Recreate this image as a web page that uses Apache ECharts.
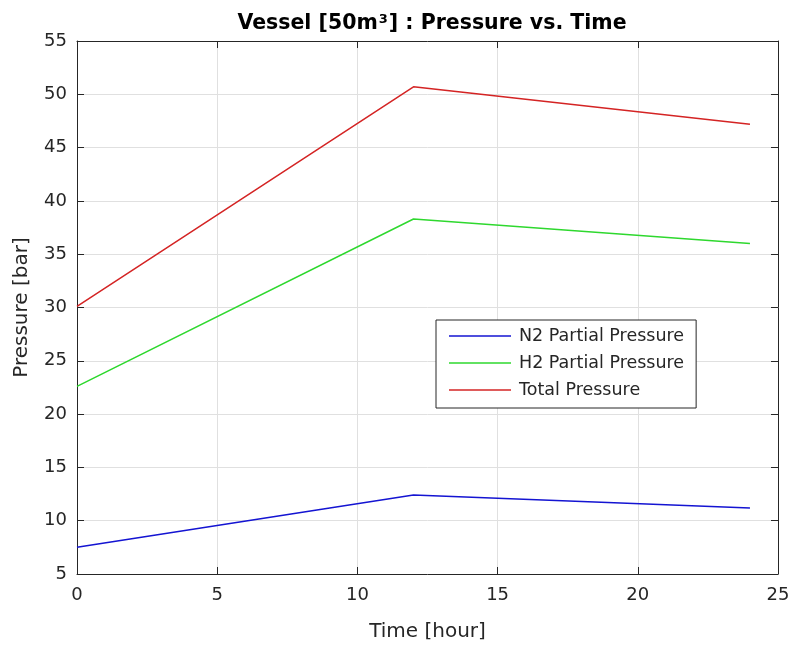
<!DOCTYPE html>
<html>
<head>
<meta charset="utf-8">
<script src="https://cdn.jsdelivr.net/npm/echarts@6/dist/echarts.min.js"></script>
<style>
  html, body { margin: 0; padding: 0; background: #fff; }
  #chart { width: 795px; height: 650px; }
</style>
</head>
<body>
<div id="chart"></div>
<script>
// Sample times in hours
const timeHours = [0, 12, 24];
// Partial and total pressures in bar
const n2Pressure = [7.5, 12.4, 11.2];
const h2Pressure = [22.6, 38.3, 36.0];
const totalPressure = [30.1, 50.7, 47.2];

const seriesNames = ['N2 Partial Pressure', 'H2 Partial Pressure', 'Total Pressure'];
const seriesColors = ['#1414d2', '#2ed82e', '#d42424'];

const textColor = '#262626';
const fontFamily = 'DejaVu Sans, sans-serif';

function pairs(xs, ys) {
  return xs.map((x, i) => [x, ys[i]]);
}

const chart = echarts.init(document.getElementById('chart'), null, { renderer: 'canvas' });

const axisLineStyle = { color: '#262626', width: 1 };
const gridLineStyle = { color: '#e0e0e0', width: 1 };

chart.setOption({
  animation: false,
  backgroundColor: '#ffffff',
  title: {
    text: 'Vessel [50m{sup|3}] : Pressure vs. Time',
    left: 427,
    textAlign: 'center',
    top: 8,
    textStyle: {
      fontFamily: fontFamily,
      fontWeight: 'bold',
      fontSize: 20.5,
      color: '#000',
      rich: {
        sup: {
          fontFamily: fontFamily,
          fontWeight: 'bold',
          fontSize: 13,
          color: '#000',
          verticalAlign: 'top',
          padding: [0, 1, 9, 1]
        }
      }
    }
  },
  grid: { left: 77, right: 17, top: 41, bottom: 76, containLabel: false },
  legend: {
    orient: 'vertical',
    left: 436,
    top: 320,
    icon: 'rect',
    itemWidth: 62,
    itemHeight: 1.4,
    itemGap: 9,
    padding: [7, 12, 9, 13],
    borderColor: '#262626',
    borderWidth: 1,
    backgroundColor: '#fff',
    textStyle: { fontFamily: fontFamily, fontSize: 17.5, color: textColor, padding: [0, 0, 0, 3] },
    data: seriesNames
  },
  xAxis: [
    {
      type: 'value', min: 0, max: 25, interval: 5,
      name: 'Time [hour]', nameLocation: 'middle', nameGap: 48,
      nameTextStyle: { fontFamily: fontFamily, fontSize: 20, color: textColor },
      axisLine: { show: true, lineStyle: axisLineStyle },
      axisTick: { show: true, inside: true, length: 7, lineStyle: axisLineStyle },
      axisLabel: { fontFamily: fontFamily, fontSize: 18, color: textColor, margin: 12 },
      splitLine: { show: true, lineStyle: gridLineStyle }
    },
    {
      type: 'value', min: 0, max: 25, interval: 5, position: 'top',
      axisLine: { show: true, onZero: false, lineStyle: axisLineStyle },
      axisTick: { show: true, inside: true, length: 7, lineStyle: axisLineStyle },
      axisLabel: { show: false },
      splitLine: { show: false }
    }
  ],
  yAxis: [
    {
      type: 'value', min: 5, max: 55, interval: 5,
      name: 'Pressure [bar]', nameLocation: 'middle', nameGap: 45, nameRotate: 90,
      nameTextStyle: { fontFamily: fontFamily, fontSize: 20, color: textColor },
      axisLine: { show: true, lineStyle: axisLineStyle },
      axisTick: { show: true, inside: true, length: 7, lineStyle: axisLineStyle },
      axisLabel: { fontFamily: fontFamily, fontSize: 18, color: textColor, margin: 10 },
      splitLine: { show: true, lineStyle: gridLineStyle }
    },
    {
      type: 'value', min: 5, max: 55, interval: 5, position: 'right',
      axisLine: { show: true, onZero: false, lineStyle: axisLineStyle },
      axisTick: { show: true, inside: true, length: 7, lineStyle: axisLineStyle },
      axisLabel: { show: false },
      splitLine: { show: false }
    }
  ],
  series: [
    {
      name: seriesNames[0], type: 'line', data: pairs(timeHours, n2Pressure),
      symbol: 'none', lineStyle: { color: seriesColors[0], width: 1.5 },
      itemStyle: { color: seriesColors[0] }
    },
    {
      name: seriesNames[1], type: 'line', data: pairs(timeHours, h2Pressure),
      symbol: 'none', lineStyle: { color: seriesColors[1], width: 1.5 },
      itemStyle: { color: seriesColors[1] }
    },
    {
      name: seriesNames[2], type: 'line', data: pairs(timeHours, totalPressure),
      symbol: 'none', lineStyle: { color: seriesColors[2], width: 1.5 },
      itemStyle: { color: seriesColors[2] }
    }
  ]
});
</script>
</body>
</html>
